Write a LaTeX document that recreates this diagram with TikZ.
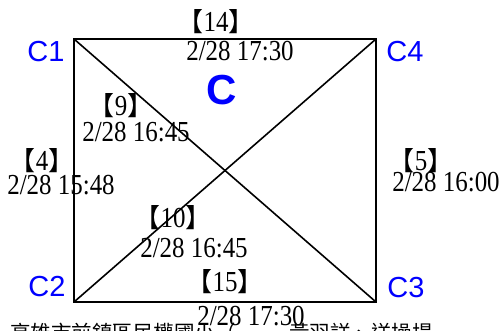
\documentclass[tikz,border=0pt]{standalone}
\usepackage{fontspec}
\setmainfont{Liberation Serif}
\newfontfamily\tallserif[FakeStretch=0.86]{Liberation Serif}
\newfontfamily\lsans{Liberation Sans}
\newfontfamily\cjk{Noto Sans CJK TC}
\newcommand{\brk}[1]{{\cjk\fontsize{26}{26}\selectfont 【}#1{\cjk\fontsize{26}{26}\selectfont 】}}
\begin{document}
\begin{tikzpicture}[x=1pt,y=-1pt,
  edge/.style={draw=black,line width=1.6pt},
  corner/.style={inner sep=0pt,anchor=base,text=blue,font=\lsans\fontsize{29}{29}\selectfont},
  num/.style={inner sep=0pt,anchor=base,font=\tallserif\fontsize{29}{29}\selectfont},
  tm/.style={inner sep=0pt,anchor=base,font=\tallserif\fontsize{29}{29}\selectfont}]
\useasboundingbox (0,0) rectangle (502,331);
\coordinate (c1) at (74,39);
\coordinate (c4) at (376,39);
\coordinate (c2) at (74,302);
\coordinate (c3) at (376,302);
\draw[edge] (c1) -- (c4) -- (c3) -- (c2) -- cycle;
\draw[edge] (c1) -- (c3);
\draw[edge] (c2) -- (c4);
\node[corner] (l1) at (46,62) {C1};
\node[corner] (l4) at (405,62) {C4};
\node[corner] (l2) at (47,296) {C2};
\node[corner] (l3) at (406,297) {C3};
\node[inner sep=0pt,anchor=base,text=blue,font=\lsans\bfseries\fontsize{42}{42}\selectfont] (big) at (222,105) {C};
\node[num] (n14) at (216,32) {\brk{14}};
\node[tm] (t14) at (240,61) {2/28 17:30};
\node[num] (n9) at (121,116) {\brk{9}};
\node[tm] (t9) at (136,141) {2/28 16:45};
\node[num] (n4) at (42,170) {\brk{4}};
\node[tm] (t4) at (61,194) {2/28 15:48};
\node[num] (n5) at (421,170) {\brk{5}};
\node[tm] (t5) at (446,191) {2/28 16:00};
\node[num] (n10) at (173,227) {\brk{10}};
\node[tm] (t10) at (194,257) {2/28 16:45};
\node[num] (n15) at (225,291) {\brk{15}};
\node[tm] (t15) at (251,325) {2/28 17:30};
\node[inner sep=0pt,anchor=base west,font=\cjk\fontsize{20.5}{20.5}\selectfont] (foot) at (10,340) {高雄市前鎮區民權國小（\hspace{2.6em}黃羽詳、送操場};
\end{tikzpicture}
\end{document}
